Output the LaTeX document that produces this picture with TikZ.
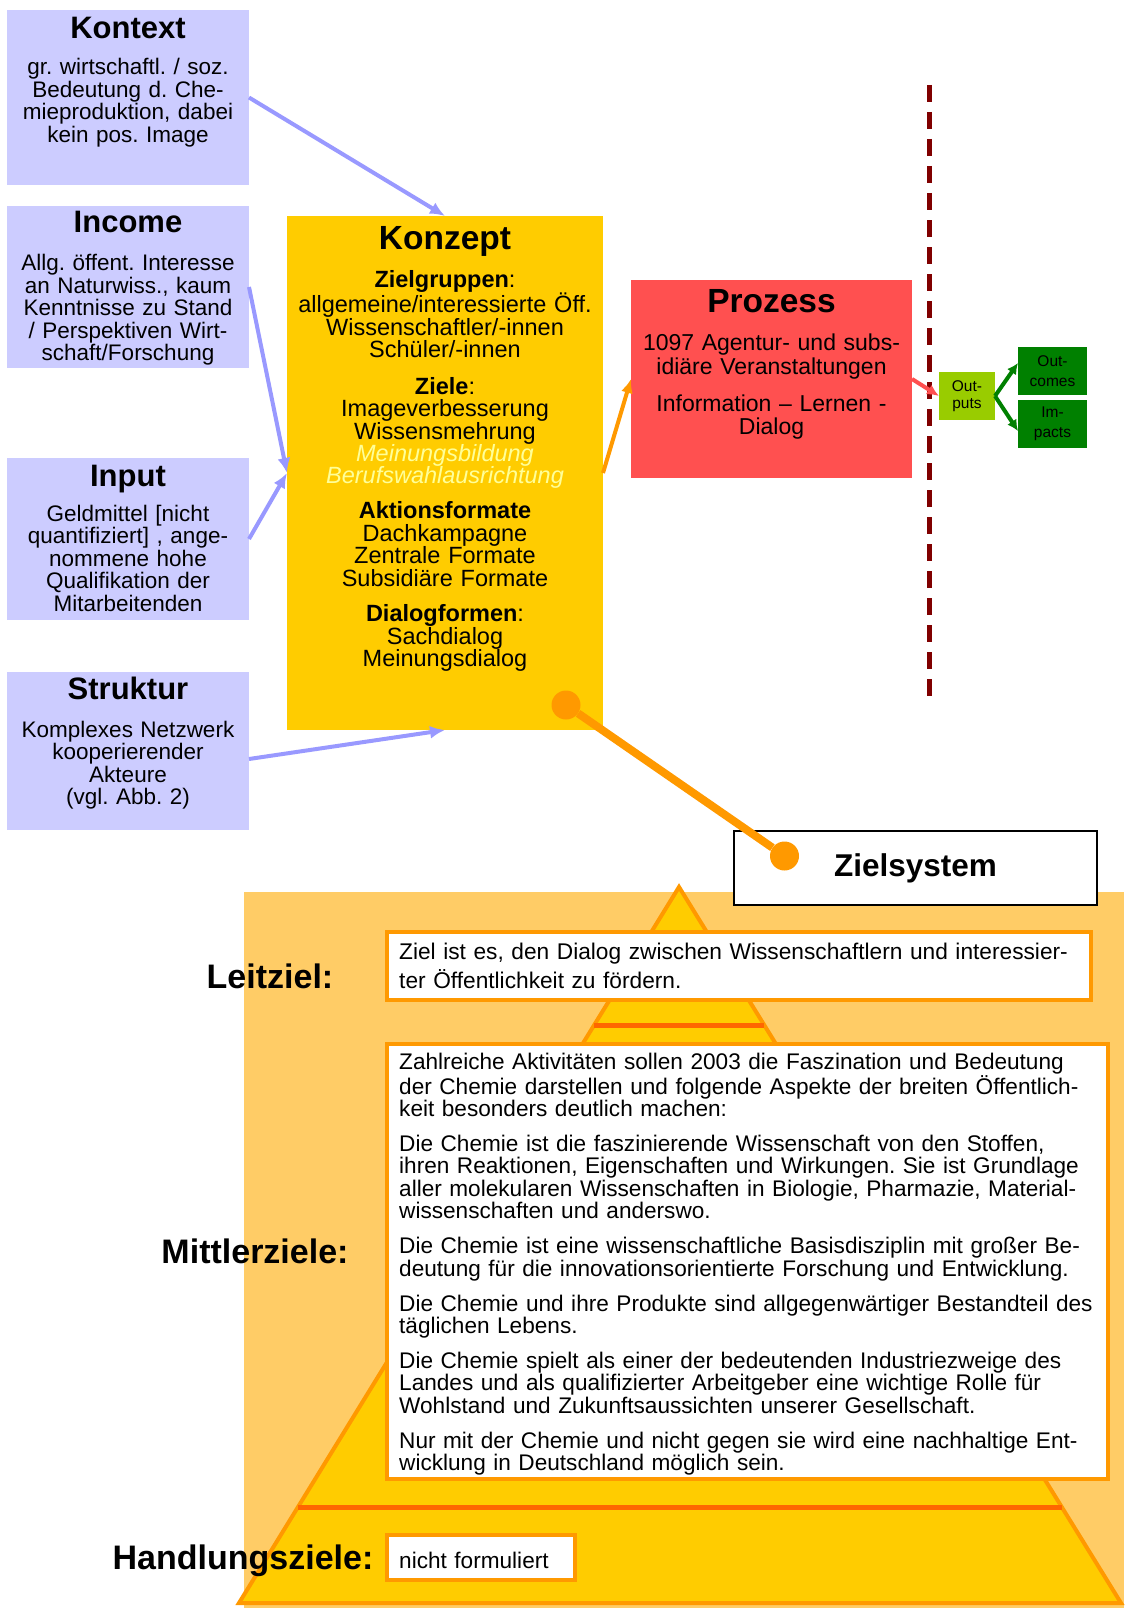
\documentclass[tikz,border=0pt]{standalone}
\usepackage{fontspec}
\setmainfont{Liberation Sans}
\usepackage{xcolor}
\usetikzlibrary{arrows.meta,calc,positioning}
\frenchspacing

\definecolor{blaubox}{HTML}{CCCCFF}
\definecolor{pfeilblau}{HTML}{9999FF}
\definecolor{konzeptgelb}{HTML}{FFCC00}
\definecolor{prozessrot}{HTML}{FF5050}
\definecolor{outputgruen}{HTML}{99CC00}
\definecolor{dunkelgruen}{HTML}{008000}
\definecolor{trennrot}{HTML}{800000}
\definecolor{orange}{HTML}{FF9900}
\definecolor{pyrbg}{HTML}{FFCC66}
\definecolor{stufenrot}{HTML}{FF6600}
\definecolor{hellgelb}{HTML}{FFFF99}

\begin{document}
\begin{tikzpicture}[x=1pt,y=-1pt,
  feld/.style={inner sep=0pt, outer sep=0pt},
  blaufeld/.style={feld, fill=blaubox, minimum width=242pt},
  titel/.style={font=\fontsize{31}{31}\selectfont\bfseries, anchor=base},
  grosstitel/.style={font=\fontsize{33.5}{33.5}\selectfont\bfseries, anchor=base},
  rumpf/.style={font=\fontsize{22.5}{22.5}\selectfont, align=center, text width=238pt, anchor=base, inner sep=0pt},
  kleinfeld/.style={feld, align=center, font=\fontsize{15.5}{17}\selectfont},
  blaupfeil/.style={draw=pfeilblau, line width=4pt, -{Latex[length=15pt,width=13pt]}},
  orangepfeil/.style={draw=orange, line width=4pt, -{Latex[length=14pt,width=12pt]}},
  rotpfeil/.style={draw=prozessrot, line width=4pt, -{Latex[length=12pt,width=11pt]}},
  gruenpfeil/.style={draw=dunkelgruen, line width=4pt, -{Latex[length=11pt,width=11pt]}},
  zielfeld/.style={feld, fill=white, draw=orange, line width=3.5pt},
  fliesstext/.style={anchor=base west, inner sep=0pt, align=left, text width=710pt},
  ebene/.style={font=\fontsize{34}{34}\selectfont\bfseries, inner sep=0pt},
  punkt/.style={circle, fill=orange, minimum size=29pt, inner sep=0pt},
]
\useasboundingbox (0,0) rectangle (1124,1608);

% linke Spalte
\node[blaufeld, minimum height=175pt] (kontext) at (128,97.5) {};
\node[titel] (kontext-titel) at (128,39) {Kontext};
\node[rumpf] (kontext-text) at (128,75) {gr. wirtschaftl. / soz.\\Bedeutung d. Che-\\mieproduktion, dabei\\kein pos. Image};

\node[blaufeld, minimum height=162pt] (income) at (128,287) {};
\node[titel] (income-titel) at (128,232.5) {Income};
\node[rumpf] (income-text) at (128,270.5) {Allg. öffent. Interesse\\an Naturwiss., kaum\\Kenntnisse zu Stand\\/ Perspektiven Wirt-\\schaft/Forschung};

\node[blaufeld, minimum height=162pt] (input) at (128,539) {};
\node[titel] (input-titel) at (128,486) {Input};
\node[rumpf] (input-text) at (128,521) {Geldmittel [nicht\\quantifiziert] , ange-\\nommene hohe\\Qualifikation der\\Mitarbeitenden};

\node[blaufeld, minimum height=158pt] (struktur) at (128,751) {};
\node[titel] (struktur-titel) at (128,699) {Struktur};
\node[rumpf] (struktur-text) at (128,737) {Komplexes Netzwerk\\kooperierender\\Akteure\\(vgl. Abb. 2)};

% Konzept
\node[feld, fill=konzeptgelb, minimum width=316pt, minimum height=514pt] (konzept) at (445,473) {};
\node[grosstitel] (konzept-titel) at (445,249) {Konzept};
\node[rumpf, text width=310pt, font=\fontsize{23.5}{22.4}\selectfont] (konzept-text) at (445,287)
  {{\bfseries Zielgruppen}:\\allgemeine/interessierte Öff.\\Wissenschaftler/-innen\\Schüler/-innen\\[14.5pt]
   {\bfseries Ziele}:\\Imageverbesserung\\Wissensmehrung\\{\color{hellgelb}\itshape Meinungsbildung}\\{\color{hellgelb}\itshape Berufswahlausrichtung}\\[12.5pt]
   {\bfseries Aktionsformate}\\Dachkampagne\\Zentrale Formate\\Subsidiäre Formate\\[13.3pt]
   {\bfseries Dialogformen}:\\Sachdialog\\Meinungsdialog};

% Prozess
\node[feld, fill=prozessrot, minimum width=281pt, minimum height=198pt] (prozess) at (771.5,379) {};
\node[grosstitel] (prozess-titel) at (771.5,312.5) {Prozess};
\node[rumpf, text width=275pt, font=\fontsize{23}{23.5}\selectfont] (prozess-text) at (771.5,350.5)
  {1097 Agentur- und subs-\\idiäre Veranstaltungen\\[13.5pt]Information – Lernen -\\Dialog};

% Trennlinie und Wirkungen
\coordinate (trenn-oben) at (929,85);
\coordinate (trenn-unten) at (929,700);
\draw[trennrot, line width=5pt, dash pattern=on 17pt off 10pt] (trenn-oben) -- (trenn-unten);

\node[kleinfeld, fill=outputgruen, minimum width=56pt, minimum height=48pt] (outputs) at (967,396) {Out-\\puts};
\node[kleinfeld, fill=dunkelgruen, minimum width=69pt, minimum height=48pt, font=\fontsize{15.5}{20}\selectfont] (outcomes) at (1052.5,371) {Out-\\comes};
\node[kleinfeld, fill=dunkelgruen, minimum width=69pt, minimum height=48pt, font=\fontsize{15.5}{20}\selectfont] (impacts) at (1052.5,424) {Im-\\pacts};

% Pfeile
\draw[blaupfeil] (kontext.east) -- (konzept.north);
\draw[blaupfeil] (income.east) -- (konzept.west);
\draw[blaupfeil] (input.east) -- (konzept.west);
\draw[blaupfeil] ([yshift=-8pt]struktur.east) -- (konzept.south);
\draw[orangepfeil] (konzept.east) -- (prozess.west);
\draw[rotpfeil] (prozess.east) -- (outputs.west);
\draw[gruenpfeil] (outputs.east) -- ([yshift=8pt]outcomes.west);
\draw[gruenpfeil] (outputs.east) -- ([yshift=-7pt]impacts.west);

% Zielpyramide
\fill[pyrbg] (244,892) rectangle (1124,1608);
\coordinate (spitze) at (679,887);
\coordinate (linksunten) at (239,1603);
\coordinate (rechtsunten) at (1121,1603);
\draw[orange, fill=konzeptgelb, line width=4pt, line join=miter] (spitze) -- (rechtsunten) -- (linksunten) -- cycle;
\draw[stufenrot, line width=5pt] ($(spitze)!0.1934!(linksunten)$) -- ($(spitze)!0.1934!(rechtsunten)$);
\draw[stufenrot, line width=5pt] ($(spitze)!0.8666!(linksunten)$) -- ($(spitze)!0.8666!(rechtsunten)$);

\node[feld, fill=white, draw=black, line width=2pt, minimum width=363pt, minimum height=74pt,
  font=\fontsize{31.5}{31.5}\selectfont\bfseries] (zielsystem) at (915.5,868) {Zielsystem};

\node[ebene] (leitziel-label) at (270,976) {Leitziel:};
\node[ebene] (mittler-label) at (255,1251) {Mittlerziele:};
\node[ebene] (handlung-label) at (243,1561) {Handlungsziele:};

\node[zielfeld, minimum width=704pt, minimum height=68pt] (leitziel) at (739,966) {};
\node[fliesstext, font=\fontsize{22.7}{29.5}\selectfont] (leitziel-text) at (399,959)
  {Ziel ist es, den Dialog zwischen Wissenschaftlern und interessier-\\ter Öffentlichkeit zu fördern.};

\node[zielfeld, minimum width=721pt, minimum height=435pt] (mittler) at (747.5,1261.5) {};
\node[fliesstext, font=\fontsize{22.6}{22.4}\selectfont] (mittler-text) at (399,1069.5)
  {Zahlreiche Aktivitäten sollen 2003 die Faszination und Bedeutung\\der Chemie darstellen und folgende Aspekte der breiten Öffentlich-\\keit besonders deutlich machen:\\[12.6pt]
   Die Chemie ist die faszinierende Wissenschaft von den Stoffen,\\ihren Reaktionen, Eigenschaften und Wirkungen. Sie ist Grundlage\\aller molekularen Wissenschaften in Biologie, Pharmazie, Material-\\wissenschaften und anderswo.\\[12.6pt]
   Die Chemie ist eine wissenschaftliche Basisdisziplin mit großer Be-\\deutung für die innovationsorientierte Forschung und Entwicklung.\\[12.6pt]
   Die Chemie und ihre Produkte sind allgegenwärtiger Bestandteil des\\täglichen Lebens.\\[12.6pt]
   Die Chemie spielt als einer der bedeutenden Industriezweige des\\Landes und als qualifizierter Arbeitgeber eine wichtige Rolle für\\Wohlstand und Zukunftsaussichten unserer Gesellschaft.\\[12.6pt]
   Nur mit der Chemie und nicht gegen sie wird eine nachhaltige Ent-\\wicklung in Deutschland möglich sein.};

\node[zielfeld, minimum width=188pt, minimum height=45pt] (handlung) at (481,1557.5) {};
\node[fliesstext, font=\fontsize{22.6}{22}\selectfont, text width=170pt] (handlung-text) at (399,1568.5) {nicht formuliert};

% Verbindung Konzept -- Zielsystem
\node[punkt] (punkt-oben) at (566,705) {};
\node[punkt] (punkt-unten) at (784.5,856) {};
\draw[orange, line width=8pt] (punkt-oben) -- (punkt-unten);
\end{tikzpicture}
\end{document}
